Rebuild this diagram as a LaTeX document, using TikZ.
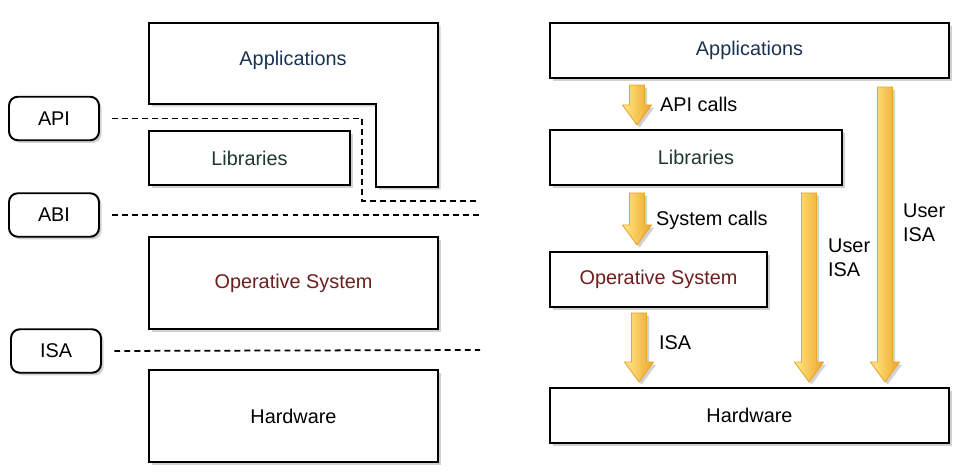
\documentclass[tikz,border=0pt]{standalone}
\usepackage{fontspec}
\setmainfont{Liberation Sans}
\usetikzlibrary{calc, shadows}

\definecolor{appcol}{HTML}{1B3252}
\definecolor{libcol}{HTML}{1E3A28}
\definecolor{oscol}{HTML}{6E1E1E}
\definecolor{arrlight}{HTML}{FFE98A}
\definecolor{arrdark}{HTML}{EEA424}
\definecolor{arredge}{HTML}{E9A530}

% block arrow: #1 start, #2 tip (same x)
\newcommand{\blockarrow}[2]{%
  \shadedraw[blockarr] ($(#1)+(-7.5,0)$) -- ($(#1)+(7.5,0)$) -- ($(#2)+(7.5,-20)$)
    -- ($(#2)+(14.5,-20)$) -- (#2) -- ($(#2)+(-14.5,-20)$) -- ($(#2)+(-7.5,-20)$) -- cycle;}

\begin{document}
\begin{tikzpicture}[x=0.02cm, y=-0.02cm, font=\fontsize{11.3}{13.5}\selectfont]

   \tikzstyle{shadowed}=[drop shadow={shadow xshift=1.5pt, shadow yshift=-1.5pt, opacity=0.3, fill=black!60}]
   \tikzstyle{layer}=[rectangle, draw, line width=1.1pt, fill=white, shadowed]
   \tikzstyle{iface}=[rectangle, rounded corners=5pt, draw, line width=1.1pt, fill=white, shadowed, minimum width=1.8cm, minimum height=0.87cm]
   \tikzstyle{dashline}=[line width=1pt, dash pattern=on 3.4pt off 2.3pt, shorten <=7pt]
   \tikzstyle{blockarr}=[draw=arredge, line width=0.5pt, left color=arrlight, right color=arrdark, shadowed]

   \useasboundingbox (0,0) rectangle (958,473);

   % left: layers and interfaces
   \draw[line width=1.1pt, fill=white, shadowed] (149,23) -- (438,23) -- (438,187) -- (376,187) -- (376,104) -- (149,104) -- cycle;
   \node[text=appcol] (apps) at (293,60) {Applications};
   \node[layer, minimum width=4.02cm, minimum height=1.08cm, text=libcol] (libs) at (249.5,158) {Libraries};
   \node[layer, minimum width=5.78cm, minimum height=1.84cm, text=oscol] (os) at (293.5,283) {Operative System};
   \node[layer, minimum width=5.78cm, minimum height=1.84cm] (hw) at (293.5,416) {Hardware};

   \node[iface] (api) at (54,118.5) {API};
   \node[iface] (abi) at (54,215) {ABI};
   \node[iface] (isa) at (56,351) {ISA};

   \coordinate (apibend) at (362,118);
   \coordinate (apiend) at (480,201);
   \coordinate (abiend) at (480,215);
   \coordinate (isaend) at (480,350);

   \draw[dashline] (api.east) -- (api.east -| apibend) |- (apiend);
   \draw[dashline] (abi.east) -- (abiend);
   \draw[dashline] (isa.east) -- (isaend);

   % right: layers and calls
   \node[layer, minimum width=7.98cm, minimum height=1.1cm, text=appcol] (apps2) at (749.5,50.5) {Applications};
   \node[layer, minimum width=5.84cm, minimum height=1.1cm, text=libcol] (libs2) at (696,157.5) {Libraries};
   \node[layer, minimum width=4.34cm, minimum height=1.1cm, text=oscol] (os2) at (658.5,279.5) {Operative System};
   \node[layer, minimum width=7.98cm, minimum height=1.1cm] (hw2) at (749.5,415.5) {Hardware};

   \coordinate (apicalls) at (637,85);   \coordinate (apicallt) at (637,125);
   \coordinate (syscalls) at (637,193);  \coordinate (syscallt) at (637,245);
   \coordinate (isacalls) at (639,313);  \coordinate (isacallt) at (639,382);
   \coordinate (usera) at (809,193);     \coordinate (userat) at (809,382);
   \coordinate (userb) at (885,87);      \coordinate (userbt) at (885,382);

   \blockarrow{apicalls}{apicallt}
   \blockarrow{syscalls}{syscallt}
   \blockarrow{isacalls}{isacallt}
   \blockarrow{usera}{userat}
   \blockarrow{userb}{userbt}

   \node[anchor=west] (lapi) at (654,104) {API calls};
   \node[anchor=west] (lsys) at (650,220) {System calls};
   \node[anchor=west] (lisa) at (653,343) {ISA};
   \node[anchor=west, align=left] (lusera) at (822,258) {User\\ISA};
   \node[anchor=west, align=left] (luserb) at (897,223) {User\\ISA};

\end{tikzpicture}
\end{document}
